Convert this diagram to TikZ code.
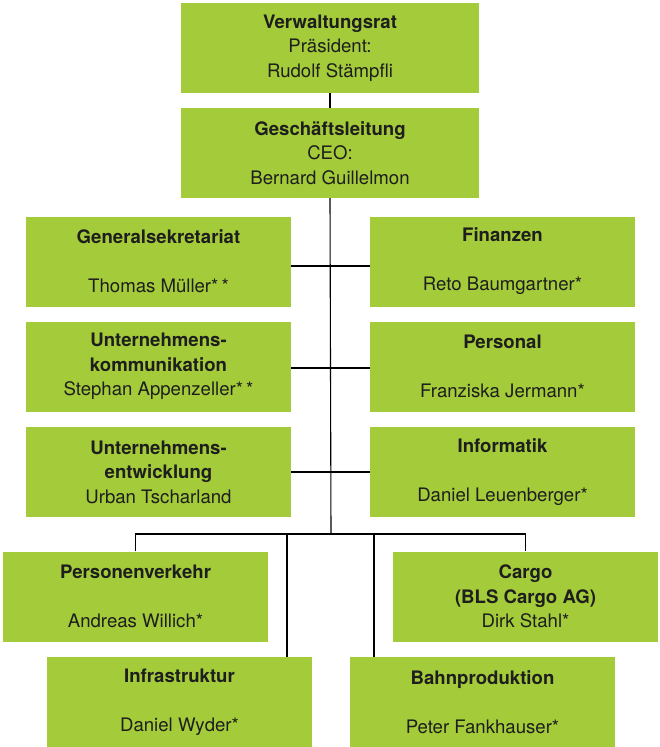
\documentclass[tikz,border=0pt]{standalone}
\usepackage{fontspec}
\setmainfont{TeX Gyre Heros}
\usepackage{tikz}
\usetikzlibrary{positioning}
\definecolor{blsgreen}{RGB}{164,203,57}
\definecolor{darktext}{RGB}{30,30,30}

\begin{document}
\begin{tikzpicture}
		[x=1pt,y=-1pt,
		unit box/.style={fill=blsgreen,draw=none,inner sep=0pt,align=center,
			minimum width=265pt,minimum height=90pt,text=darktext,
			font=\fontsize{18.6}{24.5}\selectfont},
		top box/.style={unit box,minimum width=298pt},
		link/.style={draw=black,line width=1.1pt}]
		\useasboundingbox (0,0) rectangle (660,747);
		
		\node[top box] (vr) at (330,48) {\textbf{Verwaltungsrat}\\Präsident:\\Rudolf Stämpfli};
		\node[top box] (gl) at (330,153) {\textbf{Geschäftsleitung}\\CEO:\\Bernard Guillelmon};
		
		\node[unit box] (gs) at (158.5,261.5) {\textbf{Generalsekretariat}\\[24.5pt]Thomas Müller*\,*};
		\node[unit box] (uk) at (158.5,366.5) {\textbf{Unternehmens-}\\\textbf{kommunikation}\\Stephan Appenzeller*\,*};
		\node[unit box] (ue) at (158.5,472) {\textbf{Unternehmens-}\\\textbf{entwicklung}\\Urban Tscharland};
		
		\node[unit box] (fi) at (502.5,261.5) {\textbf{Finanzen}\\[24.5pt]Reto Baumgartner*};
		\node[unit box] (pe) at (502.5,366.5) {\textbf{Personal}\\[24.5pt]Franziska Jermann*};
		\node[unit box] (in) at (502.5,472) {\textbf{Informatik}\\[24.5pt]Daniel Leuenberger*};
		
		\node[unit box] (pv) at (135.5,596.5) {\textbf{Personenverkehr}\\[24.5pt]Andreas Willich*};
		\node[unit box] (ca) at (525.5,596.5) {\textbf{Cargo}\\\textbf{(BLS Cargo AG)}\\Dirk Stahl*};
		\node[unit box] (is) at (179.5,702) {\textbf{Infrastruktur}\\[24.5pt]Daniel Wyder*};
		\node[unit box] (bp) at (482.5,702) {\textbf{Bahnproduktion}\\[24.5pt]Peter Fankhauser*};
		
		\coordinate (bus) at (331,534);
		\coordinate (isdrop) at (287,534);
		\coordinate (bpdrop) at (374,534);
		
		% spine
		\draw[link] (vr.south) -- (gl.north);
		\draw[link] (gl.south) -- (bus);
		
		% staff units
		\draw[link] ([yshift=-4.5pt]gs.east) -- ([yshift=-4.5pt]fi.west);
		\draw[link] ([yshift=-1.5pt]uk.east) -- ([yshift=-1.5pt]pe.west);
		\draw[link] (ue.east) -- (in.west);
		
		% divisions
		\draw[link] (pv.north) |- (bus) -| (ca.north);
		\draw[link] (isdrop) -- (isdrop |- is.north);
		\draw[link] (bpdrop) -- (bpdrop |- bp.north);
\end{tikzpicture}
\end{document}
